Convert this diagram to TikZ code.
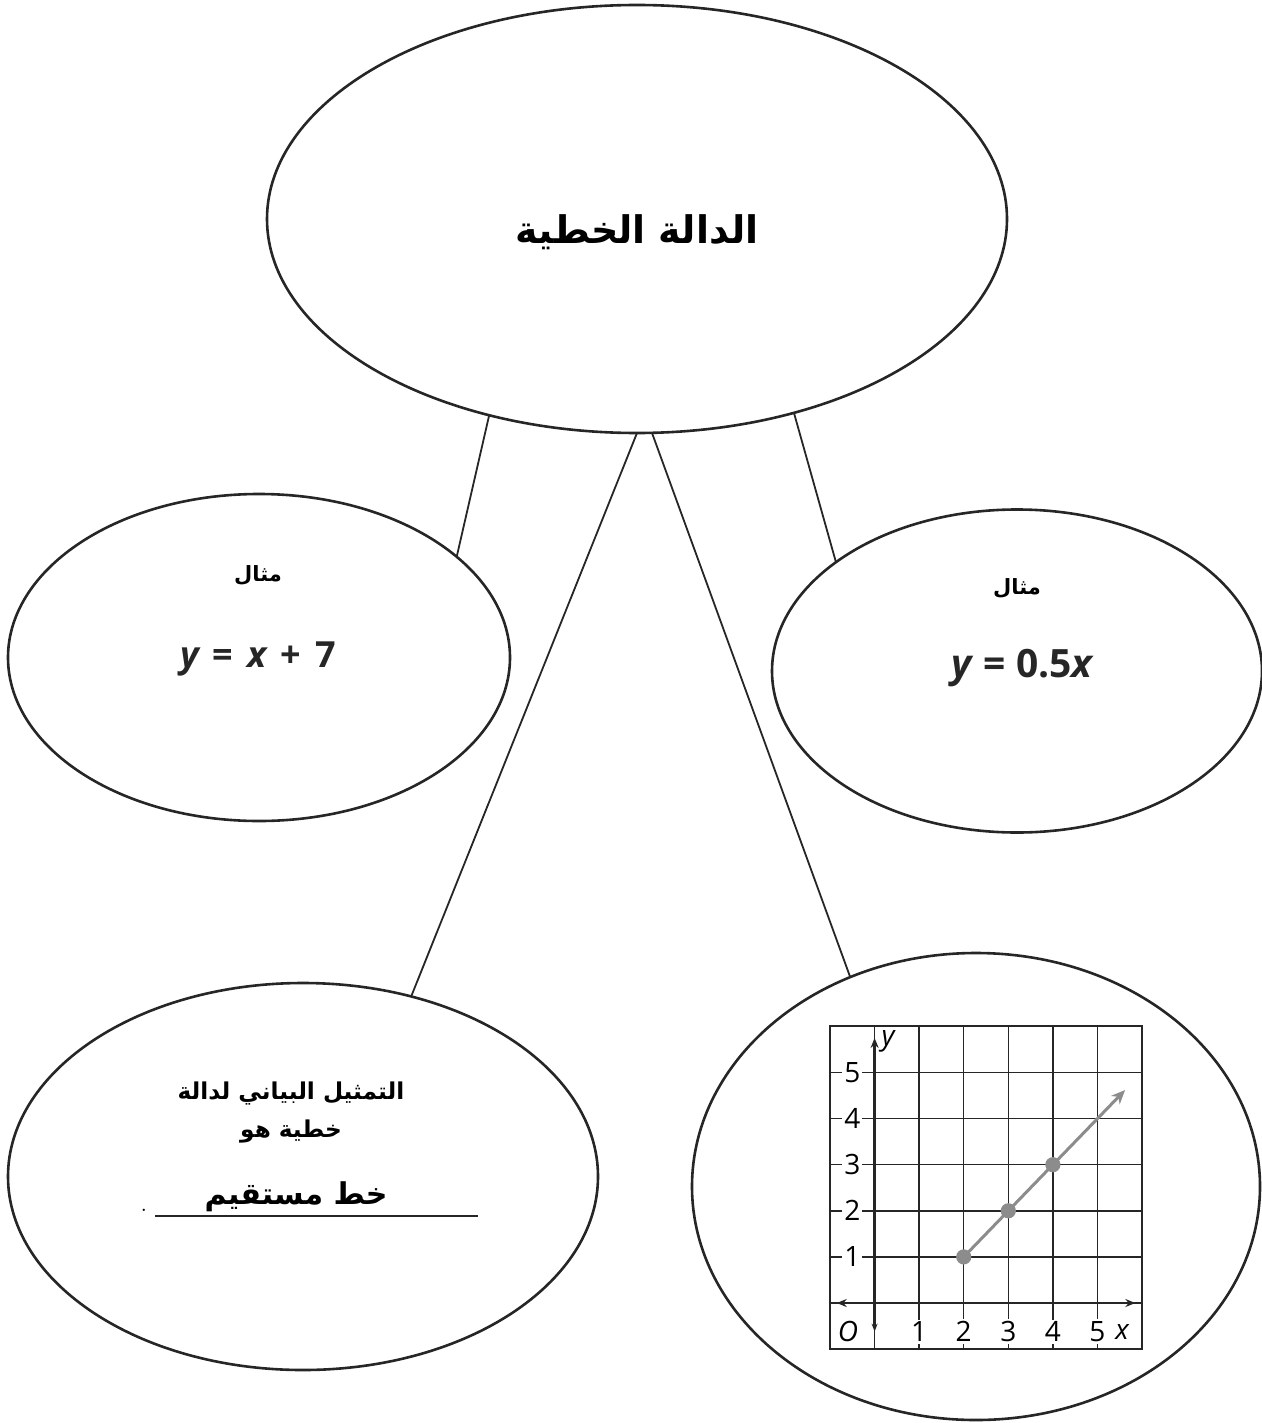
\documentclass[tikz,border=0pt]{standalone}
\usepackage{fontspec}
\TeXXeTstate=1
\newfontfamily\arabicfont[Script=Arabic]{DejaVu Sans}
\newfontfamily\eqfont{Open Sans}
\usetikzlibrary{shapes.geometric,arrows.meta}
\definecolor{inkc}{gray}{0.15}
\definecolor{linegray}{gray}{0.55}
\tikzset{
  ell/.style={ellipse, draw=inkc, line width=1.3pt, inner sep=0pt, outer sep=0pt},
  conn/.style={draw=inkc, line width=0.9pt},
  artext/.style={font=\arabicfont\bfseries, text=black, inner sep=0pt, align=center},
  eqtext/.style={font=\eqfont\bfseries\fontsize{18}{22}\selectfont, text=black!85, inner sep=0pt},
  gridline/.style={draw=inkc, line width=0.7pt},
  axislabel/.style={font=\eqfont\fontsize{14}{16}\selectfont, fill=white, inner sep=1pt, text=black}
}
\begin{document}
\begin{tikzpicture}[x=0.5pt,y=-0.5pt]
\useasboundingbox (0,0) rectangle (1262,1423);
% ellipses
\node[ell, minimum width=370pt, minimum height=214pt] (top) at (637,219) {};
\node[ell, minimum width=251pt, minimum height=163.5pt] (lm) at (259,657.5) {};
\node[ell, minimum width=245pt, minimum height=161.5pt] (rm) at (1017,671) {};
\node[ell, minimum width=295pt, minimum height=193.5pt] (bl) at (303,1176.5) {};
\node[ell, minimum width=284pt, minimum height=233.5pt] (br) at (976,1186.5) {};
% connectors
\draw[conn] (top.233.5) -- (lm.27.9);
\draw[conn] (top.270) -- (bl.59);
\draw[conn] (top.274) -- (br.121.4);
\draw[conn] (top.309.1) -- (rm.149.5);
% texts
\node[artext, font=\arabicfont\bfseries\fontsize{19}{22}\selectfont] (ttl) at (637,232) {\beginR الدالة الخطية\endR};
\node[artext, font=\arabicfont\bfseries\fontsize{10.5}{13}\selectfont] (lmh) at (258,575) {\beginR مثال\endR};
\node[eqtext] (lmeq) at (258,659) {{\itshape y}\hspace{7pt}=\hspace{7pt}{\itshape x}\hspace{7pt}+\hspace{7pt}7};
\node[artext, font=\arabicfont\bfseries\fontsize{10.5}{13}\selectfont] (rmh) at (1017,588) {\beginR مثال\endR};
\node[eqtext, font=\eqfont\bfseries\fontsize{19.5}{22}\selectfont] (rmeq) at (1022,668) {{\itshape y}\hspace{6pt}=\hspace{5pt}0.5{\itshape x}};
\node[artext, font=\arabicfont\bfseries\fontsize{11.6}{19}\selectfont] (bl1) at (291,1113) {\beginR التمثيل البياني لدالة\endR\\\beginR خطية هو\endR};
\node[artext, font=\arabicfont\bfseries\fontsize{15}{18}\selectfont] (bl2) at (296,1197) {\beginR خط مستقيم\endR};
\coordinate (ulA) at (155,1216);
\coordinate (ulB) at (478,1216);
\draw[draw=inkc, line width=0.7pt] (ulA) -- (ulB);
\node[font=\fontsize{12}{14}\selectfont, inner sep=0pt] (per) at (144,1210) {.};
% graph
\begin{scope}[shift={(437.3pt,-651.5pt)}, x=22.285pt, y=23.05pt]
  \draw[gridline, step=1] (-1,-1) grid (6,6);
  \draw[draw=inkc, line width=1pt] (-1,-1) rectangle (6,6);
  \draw[draw=inkc, line width=1.3pt, {Stealth[length=5pt,width=4pt]}-{Stealth[length=5pt,width=4pt]}] (-0.85,0) -- (5.85,0);
  \draw[draw=inkc, line width=1.3pt, {Stealth[length=4pt,width=3pt]}-{Stealth[length=5pt,width=4pt]}] (0,-0.62) -- (0,5.75);
  \foreach \k in {1,...,5} {
    \node[axislabel] at (-0.5,\k) {\k};
    \node[axislabel] at (\k,-0.62) {\k};
  }
  \node[axislabel, font=\eqfont\itshape\fontsize{14}{16}\selectfont] at (-0.6,-0.62) {O};
  \node[axislabel, font=\eqfont\itshape\fontsize{14}{16}\selectfont] at (5.55,-0.62) {x};
  \node[axislabel, font=\eqfont\itshape\fontsize{14}{16}\selectfont] at (0.3,5.67) {y};
  \draw[draw=linegray, line width=1.5pt, -{Stealth[length=7pt,width=6pt]}] (2,1) -- (5.62,4.62);
  \foreach \p in {2,3,4} {
    \fill[linegray] (\p,\p-1) circle (3.8pt);
  }
\end{scope}
\end{tikzpicture}
\end{document}
